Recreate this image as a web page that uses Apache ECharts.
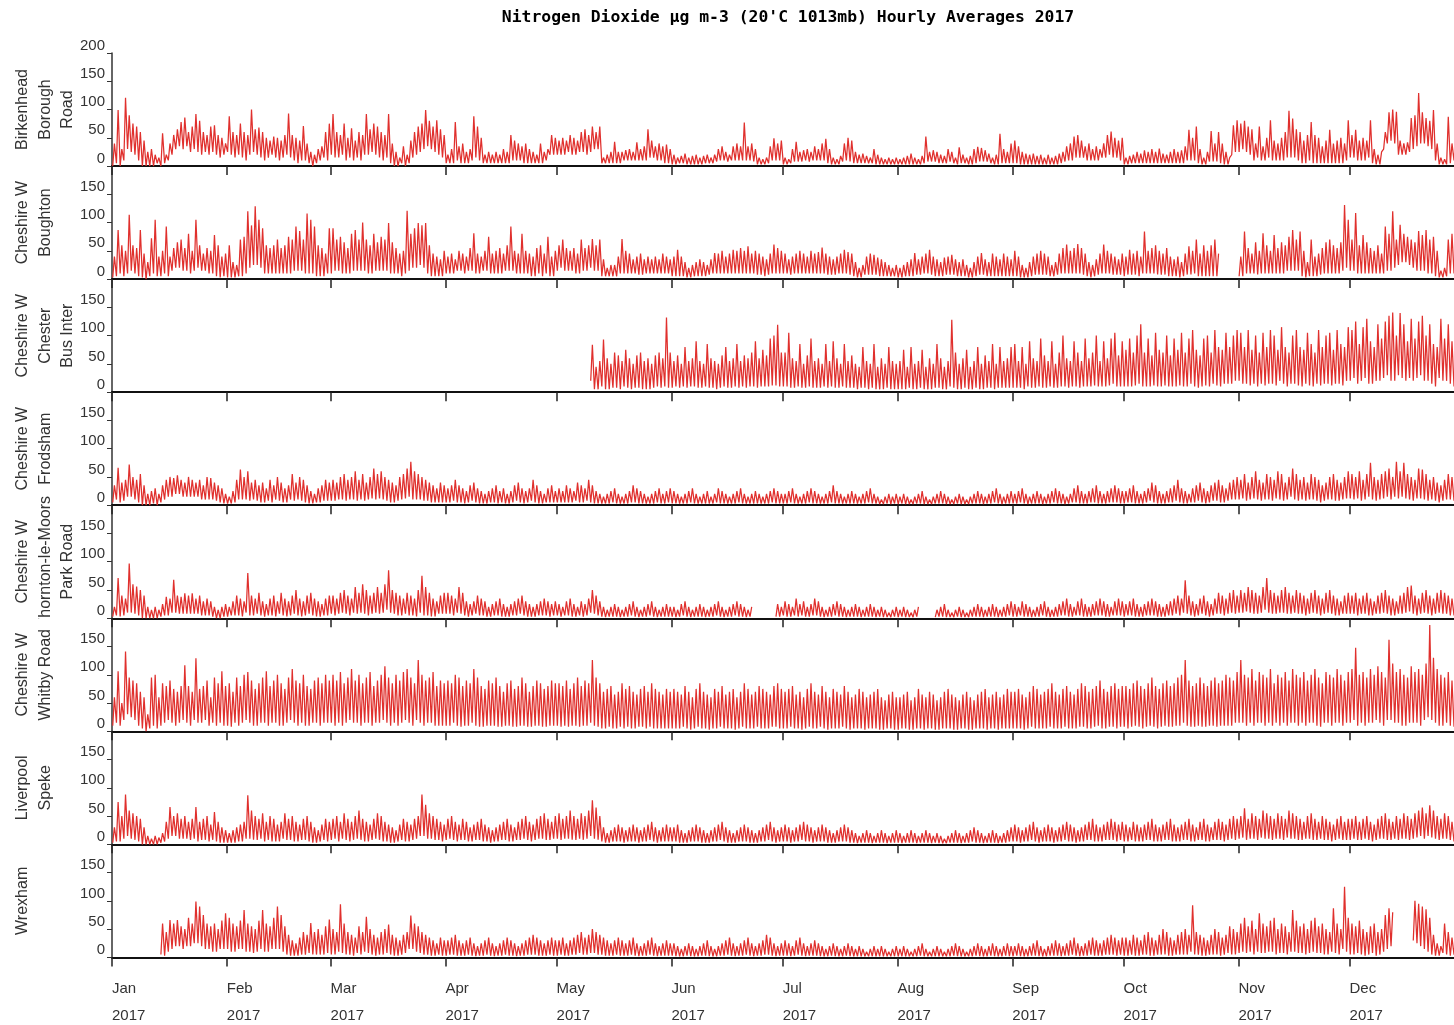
<!DOCTYPE html>
<html><head><meta charset="utf-8">
<script src="https://cdn.jsdelivr.net/npm/echarts@6/dist/echarts.min.js"></script>
<style>html,body{margin:0;padding:0;background:#fff;overflow:hidden}#c{width:1470px;height:1025px}</style>
</head><body><div id="c"></div>
<script>
// ---- tick / category data ----
const monthStarts = [0,31,59,90,120,151,181,212,243,273,304,334];
const monthNames = ['Jan','Feb','Mar','Apr','May','Jun','Jul','Aug','Sep','Oct','Nov','Dec'];
const yearLabel = '2017';
const yMin = 0, yMax = 200, yStep = 50;
const titleText = "Nitrogen Dioxide \u00b5g m-3 (20'C 1013mb) Hourly Averages 2017";
const stationNames = ['Birkenhead\nBorough\nRoad','Cheshire W\nBoughton','Cheshire W\nChester\nBus Inter','Cheshire W\nFrodsham','Cheshire W\nThornton-le-Moors\nPark Road','Cheshire W\nWhitby Road','Liverpool\nSpeke','Wrexham'];
const N = null;

// ---- daily peak (hi) and daily low (lo) readings, one sub-array per month ----
const birkenheadHi = [
[40,99,30,121,90,75,70,60,45,25,30,20,15,58,20,40,55,65,78,86,60,70,92,80,60,55,70,72,55,50,40],
[88,60,55,75,60,55,100,65,68,60,50,45,52,50,45,55,93,55,50,45,71,40,25,20,30,35,60,75],
[92,60,55,75,50,67,45,60,55,92,65,75,70,60,55,92,40,25,15,35,20,45,60,70,75,99,80,70,81,65,55],
[20,30,78,35,40,25,30,88,70,50,20,25,20,25,20,30,25,55,45,40,35,40,30,25,20,40,25,30,55,50],
[45,50,45,55,50,45,60,65,55,70,60,70,15,20,25,43,25,25,28,30,25,42,30,35,65,45,35,40,35,38,30],
[20,15,18,22,15,18,20,15,18,20,15,20,30,35,25,20,35,40,35,77,35,40,30,15,12,15,35,49,40,45],
[15,12,30,43,25,28,30,25,35,30,40,48,30,15,12,18,40,50,45,25,20,22,18,15,30,20,15,12,15,12,15],
[12,15,18,22,15,12,18,52,25,28,25,20,18,30,25,15,33,20,15,18,30,34,32,28,22,15,20,57,30,25,40],
[45,35,25,22,20,22,18,20,15,20,15,18,22,25,35,40,52,55,45,35,40,30,35,30,40,55,61,50,45,50],
[15,18,20,25,22,28,25,30,25,31,22,20,25,30,25,28,35,64,50,70,30,15,25,62,40,60,40,25,15,72,81],
[75,80,70,65,40,70,35,50,81,45,40,50,60,98,84,65,60,45,55,78,55,50,35,45,64,40,45,50,40,81],
[55,64,45,50,45,81,30,20,25,60,95,100,96,45,40,42,85,90,129,95,85,80,99,40,15,12,87,40,50,45,40]];
const birkenheadLo = [
[0,5,0,10,30,25,20,10,0,0,0,0,5,0,5,10,20,30,35,30,35,25,30,25,20,25,20,25,20,15,20],
[25,20,15,20,15,10,20,25,20,15,10,15,20,15,10,15,20,15,10,5,10,10,5,0,5,10,15,10],
[20,15,15,20,10,15,10,15,10,20,20,25,20,15,10,15,5,0,0,5,0,5,15,20,25,30,35,30,25,20,15],
[5,5,5,10,5,5,5,10,15,10,5,5,5,5,5,5,5,5,10,10,10,5,5,5,5,5,5,10,20,20],
[20,20,20,25,20,20,25,25,20,25,30,30,5,5,5,5,5,5,10,10,10,10,10,10,10,15,15,10,10,5,5],
[3,3,5,5,3,3,3,3,3,5,5,5,8,10,10,8,10,10,10,10,10,10,8,3,3,3,5,10,10,10],
[3,3,5,8,8,8,10,8,10,10,10,10,5,3,3,3,8,10,8,5,5,5,5,5,5,3,3,3,3,3,3],
[3,3,3,3,3,3,3,5,8,8,8,5,5,5,8,5,3,5,5,3,3,5,8,8,8,5,3,3,5,5,5],
[5,5,3,3,3,3,3,3,3,3,3,3,3,5,8,10,10,15,15,15,10,10,10,10,15,15,20,15,15,10],
[3,3,5,5,5,5,5,5,5,5,5,5,5,5,5,5,5,10,10,10,5,3,3,8,8,8,5,3,3,20,25],
[25,30,25,20,10,15,10,10,15,10,10,10,10,15,15,15,10,5,5,10,5,5,5,5,5,5,5,5,5,10],
[15,15,10,10,10,15,5,3,3,30,40,45,40,20,20,20,25,30,35,40,40,35,30,10,3,3,3,5,10,10,10]];

const boughtonHi = [
[40,87,60,50,114,60,55,87,45,30,72,105,40,50,93,40,55,65,70,55,80,50,105,60,45,55,50,78,60,40,45],
[60,30,25,70,75,120,95,129,105,90,60,55,60,70,55,60,75,70,93,85,70,116,105,93,60,55,45,90],
[90,70,75,65,55,80,87,70,100,70,60,80,65,75,70,99,65,55,45,50,121,80,90,99,95,99,60,45,40,35,50],
[40,45,35,50,45,40,55,81,45,40,50,75,45,50,55,45,60,93,50,45,80,50,45,40,55,60,45,75,40,50],
[60,70,55,50,55,45,70,55,60,71,60,70,35,20,25,25,40,71,50,45,35,40,45,35,40,35,40,35,45,40,35],
[40,52,40,30,20,25,30,35,30,25,35,46,45,50,40,45,52,50,55,50,58,45,50,45,40,35,45,61,55,50],
[45,35,40,45,50,45,40,50,45,48,56,45,40,35,40,45,52,48,45,30,20,25,40,45,43,38,35,30,25,20,25],
[20,25,30,35,46,35,40,45,52,40,35,30,38,40,43,35,30,35,25,20,30,40,46,35,30,45,40,35,45,40,35],
[50,40,25,20,30,40,45,50,45,40,25,30,45,55,61,50,55,62,55,45,30,25,35,45,61,50,45,40,35,45],
[40,52,45,50,40,84,50,55,60,50,45,55,40,35,40,30,45,58,50,70,45,60,50,60,70,45,N,N,N,N,N],
[40,84,55,45,65,50,81,60,50,78,55,65,60,75,87,70,84,50,30,70,40,45,55,65,70,60,55,65,131,105],
[70,117,60,78,65,55,50,60,45,93,80,120,70,96,80,75,70,65,85,78,87,70,75,50,15,20,70,80,60,55,50]];
const boughtonLo = [
[3,5,10,5,10,15,10,5,3,0,5,10,5,5,10,5,15,20,20,15,15,10,15,20,15,15,10,10,5,3,5],
[3,3,3,5,5,10,20,25,25,20,10,10,10,10,10,10,10,10,15,15,15,10,10,10,5,5,5,10],
[10,15,15,10,10,10,15,15,15,15,10,10,15,15,15,15,10,10,10,5,10,15,20,20,25,20,10,5,5,5,5],
[10,10,10,15,15,10,15,15,10,10,15,15,10,10,10,10,15,15,15,10,10,10,10,5,5,10,5,10,5,5],
[15,20,15,15,15,10,10,15,15,20,15,15,5,5,5,5,5,10,10,10,10,10,8,8,10,10,10,10,10,10,10],
[5,5,5,5,3,3,5,5,5,5,8,10,10,10,10,10,10,10,10,10,10,10,10,8,8,5,8,10,10,10],
[10,10,8,10,10,10,10,10,10,10,10,10,8,8,8,10,10,10,8,5,3,3,8,8,8,8,5,5,5,5,5],
[3,3,5,5,5,8,8,10,10,8,5,5,5,8,8,8,5,5,5,3,3,5,8,8,5,5,5,5,5,5,5],
[5,5,3,3,3,5,8,8,8,8,5,5,8,10,10,10,10,10,10,8,5,3,5,8,10,10,10,8,8,8],
[5,8,8,8,5,10,10,10,10,8,8,8,5,5,5,3,5,8,8,10,5,5,5,5,5,5,N,N,N,N,N],
[5,5,10,10,10,8,10,10,10,10,10,10,10,15,15,15,15,5,3,5,5,5,8,10,10,10,10,10,15,20],
[15,15,10,10,10,10,10,10,10,10,15,15,20,25,30,30,25,20,15,15,15,10,10,5,3,3,5,10,10,10,10]];

const chesterHi = [[],[],[],[],
[N,N,N,N,N,N,N,N,N,84,45,55,93,60,50,70,65,55,75,60,50,65,70,55,60,50,65,70,60,132,70],
[55,65,50,80,55,60,90,55,50,85,60,55,50,65,80,55,60,85,55,65,60,70,90,60,75,65,95,100,119,70],
[70,105,60,55,85,50,65,95,55,60,50,85,55,90,60,50,85,55,65,50,45,80,55,50,85,45,60,50,80,55,50],
[55,75,45,80,50,55,75,45,60,50,85,60,45,55,128,70,50,60,75,45,55,80,50,65,55,85,50,80,55,60,80],
[85,55,80,50,90,60,55,95,65,55,90,50,70,100,60,55,90,70,55,95,60,70,100,55,90,60,95,105,65,90],
[75,95,70,100,120,70,95,65,105,75,70,100,65,95,75,105,70,95,110,75,65,95,100,70,110,80,75,105,80,100,110],
[105,80,110,75,100,70,105,80,110,100,75,115,80,70,100,110,80,75,105,85,70,110,80,100,105,75,110,85,80,115],
[110,125,85,115,130,90,80,120,95,125,135,141,100,140,120,90,130,95,125,135,100,120,85,80,130,95,120,90,80,70,60]];
const chesterLo = [[],[],[],[],
[N,N,N,N,N,N,N,N,N,20,5,5,10,5,5,8,8,5,10,8,5,8,8,5,5,5,8,10,8,10,8],
[8,10,8,10,8,10,10,8,8,10,8,8,5,8,10,8,8,10,8,10,8,10,10,8,10,10,10,12,12,10],
[10,10,8,8,10,8,8,10,8,8,8,10,8,10,8,8,10,8,8,8,5,8,8,5,8,5,5,5,8,5,5],
[5,5,5,8,5,5,8,5,5,5,8,8,5,5,10,8,5,5,8,5,5,8,5,5,8,8,5,8,8,8,8],
[8,8,8,5,10,8,8,10,8,8,10,8,8,10,10,8,10,10,8,10,10,10,12,10,10,10,12,15,10,10],
[10,10,10,12,15,10,10,10,12,10,10,12,10,10,10,12,10,10,15,10,8,10,12,10,15,12,10,15,15,15,20],
[20,15,15,12,15,10,15,12,15,15,12,20,15,10,15,15,12,10,15,12,10,15,12,15,15,12,15,15,12,20],
[20,25,15,20,25,15,15,20,20,25,30,20,20,30,25,20,25,20,25,30,20,20,15,10,25,20,20,15,10,10,10]];

const frodshamHi = [
[35,66,40,45,72,50,45,55,35,20,25,30,20,35,45,50,48,53,45,40,50,45,40,45,35,50,48,40,35,30,20],
[15,25,45,63,50,60,40,45,35,40,30,45,35,50,40,30,35,55,40,50,45,35,25,20,30,35,45,40],
[45,40,50,55,45,50,60,45,55,40,50,65,55,60,50,45,40,35,50,55,65,77,60,55,50,45,40,35,30,40,35],
[30,35,45,35,30,25,35,40,30,25,20,25,30,35,25,30,20,25,35,40,30,25,30,45,35,25,20,30,35,25],
[30,25,35,30,25,40,35,30,45,35,25,20,15,20,25,30,20,15,20,25,35,30,25,20,15,20,25,30,20,25,30],
[25,20,15,20,25,30,20,15,20,25,15,20,30,25,20,15,20,25,30,20,15,20,25,20,15,20,25,30,25,20],
[20,25,30,20,15,20,25,30,25,20,15,20,25,35,25,20,15,20,25,20,15,20,25,30,20,15,10,15,20,15,20],
[15,20,15,10,15,20,25,15,10,15,20,25,20,15,10,15,20,15,10,15,20,25,20,15,20,25,30,20,15,20,25],
[20,25,30,20,15,20,25,20,15,20,25,30,25,20,15,20,30,35,25,20,25,30,35,25,20,25,30,35,30,25],
[25,30,35,25,20,25,30,40,35,25,20,25,30,35,45,30,25,20,30,35,40,30,25,35,40,45,35,30,40,45,50],
[45,55,40,50,60,45,40,55,50,45,60,55,40,50,65,55,45,50,40,55,50,45,35,40,50,55,45,40,50,60],
[55,50,60,45,55,75,50,45,55,60,65,50,77,60,75,55,50,45,65,63,55,45,50,40,35,45,55,50,45,40,35]];
const frodshamLo = [
[5,10,5,8,15,15,10,5,0,0,0,3,0,5,10,15,15,20,20,15,15,15,15,15,10,10,10,10,8,5,3],
[3,3,5,10,10,10,8,10,8,5,5,8,5,10,8,5,5,10,8,10,8,5,3,3,5,5,8,8],
[8,8,10,10,8,10,10,8,10,8,10,12,10,12,10,8,5,5,8,10,12,15,10,10,10,8,8,5,5,5,5],
[5,5,8,5,5,3,5,8,5,3,3,3,5,5,3,5,3,3,5,8,5,3,5,8,5,3,3,5,5,5],
[5,5,5,5,5,8,5,5,8,5,3,3,3,3,3,5,3,3,3,3,5,5,3,3,3,3,3,5,3,3,5],
[3,3,3,3,3,5,3,3,3,3,3,3,5,3,3,3,3,3,5,3,3,3,3,3,3,3,3,5,3,3],
[3,3,5,3,3,3,3,5,3,3,3,3,3,5,3,3,3,3,3,3,3,3,3,5,3,3,2,2,3,2,3],
[2,3,2,2,2,3,3,2,2,2,3,3,3,2,2,2,3,2,2,2,3,3,3,2,3,3,5,3,2,3,3],
[3,3,5,3,2,3,3,3,2,3,3,5,3,3,2,3,5,5,3,3,3,5,5,3,3,3,5,5,5,3],
[3,5,5,3,3,3,5,8,5,3,3,3,5,5,8,5,3,3,5,5,8,5,3,5,8,8,5,5,8,10,10],
[10,12,8,10,12,10,8,10,10,8,12,10,8,10,15,10,8,10,8,10,10,8,5,8,10,10,8,8,10,12],
[12,10,12,8,10,15,10,8,10,12,15,10,15,12,15,12,10,8,12,12,10,8,10,8,5,8,10,10,8,8,5]];

const thorntonHi = [
[20,71,40,35,97,60,56,50,40,20,15,20,15,25,38,35,68,40,38,44,40,44,35,40,30,35,30,20,15,20,25],
[20,30,40,35,30,80,40,35,45,30,25,35,40,30,45,35,30,40,50,35,30,40,45,35,30,25,35,40],
[40,35,45,50,40,35,55,45,60,50,40,45,55,45,60,85,50,45,40,35,45,40,35,50,75,55,45,35,30,40,45],
[45,40,35,55,45,30,25,30,40,35,30,20,25,30,35,25,20,25,30,35,40,30,25,20,25,30,35,30,25,30],
[25,20,30,35,25,20,30,25,35,50,40,30,20,15,20,25,20,15,20,25,30,20,15,20,25,30,20,15,20,25,20],
[20,15,25,30,20,15,20,25,20,15,20,25,30,20,15,20,25,30,25,20,15,20,N,N,N,N,N,N,25,20],
[30,25,20,35,25,30,20,25,35,30,20,15,20,25,30,25,20,15,20,25,20,15,20,25,20,15,20,15,10,15,20],
[15,20,15,10,15,20,N,N,N,N,15,20,25,15,10,15,20,15,10,15,20,25,20,15,20,25,20,15,20,25,30],
[25,20,30,25,20,15,20,25,30,20,15,20,25,30,35,25,20,30,35,25,20,25,30,35,30,25,20,30,35,30],
[25,30,35,25,20,25,30,35,30,25,20,25,30,35,40,35,67,40,30,25,35,40,30,25,35,45,40,35,45,50,40],
[50,45,55,50,45,40,55,71,50,45,40,50,55,45,40,50,45,40,35,45,50,40,35,45,50,40,35,30,40,45],
[40,45,35,40,45,35,30,40,45,50,40,35,30,40,45,55,58,40,35,45,50,40,35,45,50,45,40,35,30,25,20]];
const thorntonLo = [
[3,5,3,5,10,10,8,5,0,0,0,0,0,3,5,5,10,10,8,8,8,8,8,8,5,5,5,3,0,0,3],
[3,5,5,5,3,10,5,5,8,5,3,5,5,3,8,5,3,5,8,5,3,5,8,5,3,3,5,5],
[8,5,8,10,8,5,10,8,10,8,5,8,10,8,10,15,10,8,5,5,8,5,5,3,10,5,5,3,3,8,8],
[8,8,5,10,8,5,3,5,8,5,5,3,3,5,5,3,3,3,5,5,8,5,3,3,3,5,5,5,3,5],
[5,3,5,5,3,3,5,3,5,10,8,5,3,2,3,3,3,2,3,3,5,3,2,3,3,5,3,2,3,3,3],
[3,2,3,5,3,2,3,3,3,2,3,3,5,3,2,3,3,5,3,3,2,3,N,N,N,N,N,N,3,3],
[5,3,3,5,3,5,3,3,5,5,3,2,3,3,5,3,3,2,3,3,3,2,3,3,3,2,3,2,2,2,3],
[2,3,2,2,2,3,N,N,N,N,2,3,3,2,2,2,3,2,2,2,3,3,3,2,3,3,3,2,3,3,5],
[3,3,5,3,3,2,3,3,5,3,2,3,3,5,5,3,3,5,5,3,3,3,5,5,5,3,3,5,5,5],
[3,5,5,3,3,3,5,5,5,3,3,3,5,5,8,5,10,8,5,3,5,8,5,3,5,8,8,5,8,10,8],
[10,10,12,10,8,8,10,15,10,8,8,10,10,8,8,10,8,8,5,8,10,8,5,8,10,8,5,5,8,8],
[8,8,5,8,8,5,5,8,8,10,8,5,5,8,8,10,12,8,5,8,10,8,5,8,10,8,8,5,5,3,3]];

const whitbyHi = [
[60,106,50,141,95,90,85,70,60,30,95,100,60,85,80,90,75,70,80,117,80,70,129,75,80,90,60,95,85,106,80],
[85,70,95,80,100,105,90,75,85,95,106,80,90,100,85,75,95,110,90,85,100,80,75,90,95,85,100,90],
[100,90,105,85,95,110,90,100,85,95,105,80,90,100,115,95,85,100,90,105,110,95,85,126,100,90,95,105,80,90,85],
[90,85,100,95,80,90,85,110,95,80,75,90,85,95,80,70,85,90,75,80,95,85,70,80,90,85,75,80,90,85],
[85,80,90,75,85,95,80,90,85,126,95,85,70,75,80,65,70,85,75,80,70,65,75,80,70,85,75,70,65,75,70],
[75,70,65,80,70,60,75,85,70,65,60,75,70,80,65,70,75,60,70,85,75,65,70,80,75,70,65,80,85,75],
[70,75,80,65,70,60,75,85,70,65,80,70,60,75,70,65,80,70,60,65,75,70,60,65,70,75,60,55,65,70,60],
[60,65,70,55,60,75,65,60,70,65,55,60,70,75,65,60,55,65,70,60,55,65,70,75,60,65,70,60,65,75,70],
[70,75,65,60,70,80,75,65,70,75,85,70,65,75,80,70,65,75,85,80,70,75,80,90,75,70,80,85,75,80],
[80,75,85,90,80,75,85,95,80,75,85,90,80,85,95,100,126,90,80,85,95,85,80,90,95,85,90,100,95,90,105],
[126,100,95,110,90,105,100,95,110,85,100,95,105,90,110,100,95,105,90,100,110,95,85,105,100,95,110,100,90,105],
[110,148,100,105,95,110,100,115,105,95,162,120,105,110,100,95,115,105,110,100,120,188,130,110,100,95,105,90,80,70,75]];
const whitbyLo = [
[10,15,10,20,30,25,20,10,5,0,5,10,5,10,15,20,15,10,15,20,15,10,20,15,15,20,10,15,10,15,10],
[10,8,15,10,15,20,15,10,10,15,15,10,15,15,10,10,15,20,15,10,15,10,10,15,15,10,15,15],
[15,10,15,10,15,20,15,15,10,15,15,10,15,15,20,15,10,15,10,15,20,15,10,20,15,10,15,15,10,10,10],
[10,10,15,10,8,10,10,15,10,8,8,10,10,10,8,8,10,10,8,8,10,10,8,8,10,10,8,8,10,10],
[10,8,10,8,10,10,8,10,10,15,10,8,5,5,8,5,5,8,5,8,5,5,8,8,5,8,5,5,5,5,5],
[5,5,5,8,5,3,5,8,5,5,3,5,5,8,5,5,5,3,5,8,5,5,5,8,5,5,5,8,8,5],
[5,5,8,5,5,3,5,8,5,5,8,5,3,5,5,5,8,5,3,5,5,5,3,5,5,5,3,3,5,5,3],
[3,5,5,3,3,5,5,3,5,5,3,3,5,5,5,3,3,5,5,3,3,5,5,5,3,5,5,3,5,5,5],
[5,5,5,3,5,8,5,5,5,5,8,5,5,5,8,5,5,5,8,8,5,5,8,10,5,5,8,8,5,8],
[8,5,8,10,8,5,8,10,8,5,8,10,8,8,10,10,15,10,8,8,10,8,8,10,10,8,10,10,10,10,15],
[15,15,10,15,10,15,15,10,15,10,15,10,15,10,15,15,10,15,10,15,15,10,8,15,15,10,15,15,10,15],
[15,20,10,15,10,15,15,20,15,10,20,20,15,15,10,10,15,15,15,10,20,25,20,15,10,10,15,10,8,5,5]];

const spekeHi = [
[30,75,50,88,60,55,50,45,30,15,10,15,12,20,40,66,50,55,45,50,40,45,66,40,45,50,35,57,40,30,25],
[20,25,30,35,40,87,60,50,45,55,40,50,45,35,40,55,45,50,40,35,45,50,40,30,25,35,45,40],
[45,50,40,55,45,40,50,60,45,40,35,45,55,50,40,35,30,25,35,45,40,35,45,50,88,70,55,50,45,40,35],
[45,50,40,35,45,40,30,35,40,45,35,30,25,30,35,40,45,35,30,40,45,50,40,35,45,50,55,45,40,50],
[55,45,50,60,50,45,55,50,60,78,65,50,30,20,25,30,35,30,25,30,35,30,25,30,35,40,30,25,30,35,30],
[30,35,25,20,25,30,35,30,25,20,25,30,35,40,30,25,20,25,30,35,30,25,20,25,30,35,40,30,25,30],
[35,30,25,30,35,40,35,30,25,30,35,30,25,20,25,30,35,30,25,20,15,20,25,20,15,20,25,20,15,20,25],
[20,15,20,25,20,15,20,25,20,15,20,15,10,15,20,25,20,15,20,25,30,25,20,15,20,25,20,15,20,25,30],
[35,30,25,30,35,40,30,25,30,35,30,25,30,35,40,35,30,25,30,35,40,45,35,30,35,40,45,40,35,40],
[35,30,40,35,30,35,40,45,35,30,35,40,45,35,30,35,40,45,35,30,40,45,35,30,40,45,40,35,45,50,45],
[50,64,45,55,50,45,60,55,50,45,55,50,45,60,55,50,45,40,50,55,45,40,50,45,40,35,45,50,40,45],
[45,50,40,45,50,40,35,45,50,55,45,40,50,45,55,50,45,55,60,65,55,69,60,50,45,55,50,40,30,25,35]];
const spekeLo = [
[3,5,5,10,15,10,8,5,0,0,0,0,0,3,5,10,15,15,10,10,10,8,10,5,8,8,5,8,5,3,3],
[3,3,3,5,5,10,10,8,8,10,5,8,5,5,5,10,8,8,5,5,8,8,5,3,3,5,8,5],
[8,10,5,10,8,5,8,10,8,5,5,8,10,8,5,5,3,3,5,8,5,5,8,10,15,15,10,10,8,8,5],
[8,10,8,5,8,8,5,5,8,8,5,5,3,5,5,8,8,5,5,8,8,10,8,5,8,10,10,8,8,10],
[10,8,10,10,8,8,10,8,10,15,10,8,5,3,3,5,5,5,3,5,5,5,3,5,5,8,5,3,5,5,5],
[5,5,3,3,3,5,5,5,3,3,3,5,5,8,5,3,3,3,5,5,5,3,3,3,5,5,8,5,3,5],
[5,5,3,5,5,8,5,5,3,5,5,5,3,3,3,5,5,5,3,3,2,3,3,3,2,3,3,3,2,3,3],
[3,2,3,3,3,2,3,3,3,2,3,2,2,2,3,3,3,2,3,3,5,3,3,2,3,3,3,2,3,3,5],
[5,5,3,5,5,8,5,3,5,5,5,3,5,5,8,5,5,3,5,5,8,8,5,5,5,8,8,8,5,8],
[5,5,8,5,5,5,8,8,5,5,5,8,8,5,5,5,8,8,5,5,8,8,5,5,8,8,8,5,8,10,8],
[10,12,8,10,10,8,12,10,10,8,10,10,8,12,10,10,8,8,10,10,8,8,10,8,8,5,8,10,8,8],
[8,10,8,8,10,8,5,8,10,10,8,8,10,8,10,10,8,10,12,15,10,15,12,10,8,10,10,8,5,3,5]];

const wrexhamHi = [
[N,N,N,N,N,N,N,N,N,N,N,N,N,60,45,66,60,66,55,50,70,60,99,90,75,60,55,60,50,65,78],
[70,60,55,65,84,60,55,50,65,84,60,55,70,90,75,55,40,30,25,35,45,40,61,45,50,40,55,67],
[50,45,94,60,45,40,35,55,45,72,50,40,35,45,50,58,40,35,30,40,45,74,60,55,45,40,35,30,25,35,30],
[30,35,40,30,25,30,35,25,20,25,30,35,25,20,25,30,35,30,25,20,25,30,35,40,35,30,25,30,35,30],
[30,35,25,30,35,40,45,35,40,50,45,40,35,30,25,30,35,30,25,30,35,25,20,25,30,35,25,20,25,30,25],
[25,20,15,20,25,20,15,20,25,30,20,15,20,25,30,35,25,20,25,30,35,25,20,25,30,40,35,25,20,25],
[30,25,20,30,35,25,20,25,30,25,20,15,20,25,20,15,20,25,20,15,20,15,10,15,20,15,20,15,10,15,20],
[15,20,15,10,15,20,25,15,10,15,20,15,10,15,20,25,20,15,10,15,20,25,20,15,20,25,20,15,20,25,20],
[20,25,20,15,20,25,30,20,15,20,25,30,25,20,25,30,35,25,20,25,30,35,30,25,30,35,40,35,30,35],
[35,30,40,35,30,40,45,35,30,40,50,45,35,30,40,45,50,40,92,45,40,35,30,40,50,45,35,40,55,50,45],
[60,70,55,65,50,78,60,55,65,70,50,60,55,45,84,65,55,60,50,65,70,55,60,50,45,87,60,50,125,70],
[60,55,65,50,45,55,60,45,50,75,87,80,N,N,N,N,N,100,95,90,85,70,40,25,20,60,45,35,40,30,35]];
const wrexhamLo = [
[N,N,N,N,N,N,N,N,N,N,N,N,N,5,3,10,15,20,20,15,20,20,25,25,20,15,15,10,10,15,15],
[15,10,10,15,15,10,10,8,10,15,10,10,15,15,15,10,5,3,3,3,5,5,8,5,5,5,5,8],
[5,5,10,8,5,5,3,8,5,10,8,5,3,5,5,8,5,3,3,5,8,15,15,10,8,5,5,3,3,5,3],
[3,5,5,3,3,3,5,3,2,3,3,5,3,2,3,3,5,3,3,2,3,3,5,5,5,3,3,3,5,3],
[3,5,3,3,5,5,8,5,5,8,8,5,5,3,3,3,5,3,3,3,5,3,2,3,3,5,3,2,3,3,3],
[3,2,2,2,3,2,2,2,3,3,2,2,2,3,3,5,3,2,3,3,5,3,2,3,3,5,5,3,2,3],
[3,3,2,3,5,3,2,3,3,3,2,2,2,3,2,2,2,3,2,2,2,2,2,2,2,2,2,2,2,2,2],
[2,2,2,2,2,2,3,2,2,2,2,2,2,2,2,3,2,2,2,2,2,3,2,2,2,3,2,2,2,3,2],
[2,3,2,2,2,3,3,2,2,2,3,3,3,2,3,3,5,3,2,3,3,5,3,3,3,5,5,5,3,5],
[3,3,5,3,3,5,5,3,3,5,5,5,3,3,5,5,5,5,10,5,5,3,3,5,5,5,3,5,8,5,5],
[8,10,8,10,5,10,8,8,10,10,5,8,8,5,10,10,8,8,5,8,10,8,8,5,5,10,8,5,15,10],
[5,5,8,5,3,5,8,3,5,10,15,20,N,N,N,N,N,30,25,20,15,10,5,3,3,8,5,3,5,3,3]];

const stationHi = [birkenheadHi, boughtonHi, chesterHi, frodshamHi, thorntonHi, whitbyHi, spekeHi, wrexhamHi];
const stationLo = [birkenheadLo, boughtonLo, chesterLo, frodshamLo, thorntonLo, whitbyLo, spekeLo, wrexhamLo];

// ---- build [day, value] points: daily low then daily peak ----
function build(hi, lo) {
  const pts = [];
  for (let m = 0; m < 12; m++) {
    const h = hi[m] || [], l = lo[m] || [];
    const n = Math.max(h.length, l.length);
    for (let i = 0; i < n; i++) {
      const d = monthStarts[m] + i;
      const lv = l[i], hv = h[i];
      pts.push([d + 0.2, lv == null ? '-' : lv]);
      pts.push([d + 0.65, hv == null ? '-' : hv]);
    }
  }
  return pts;
}

// ---- layout ----
const LEFT = 112, TOP0 = 53, PH = 113.05, PW = 1352.4, CW = 1470;
const grids = [], xAxes = [], yAxes = [], series = [], graphics = [];
const lineColor = '#E0302D';
const txt = '#333';
const sansFont = 'Liberation Sans, Arial, sans-serif';

for (let i = 0; i < stationNames.length; i++) {
  const top = TOP0 + i * PH;
  grids.push({ left: LEFT, top: top, right: CW - LEFT - PW, height: PH, containLabel: false, outerBoundsMode: 'none' });
  const last = i === stationNames.length - 1;
  xAxes.push({
    type: 'value', gridIndex: i, min: 0, max: 365,
    axisLine: { show: true, onZero: false, lineStyle: { color: '#111', width: 2 } },
    axisTick: { show: true, inside: false, length: 9, customValues: monthStarts, lineStyle: { color: '#222', width: 1.5 } },
    axisLabel: {
      show: last, customValues: monthStarts, align: 'left', margin: 18,
      fontSize: 15, lineHeight: 27, color: txt, fontFamily: sansFont,
      formatter: function (v) { const k = monthStarts.indexOf(Math.round(v)); return k < 0 ? '' : monthNames[k] + '\n' + yearLabel; }
    },
    splitLine: { show: false }
  });
  yAxes.push({
    type: 'value', gridIndex: i, min: yMin, max: yMax, interval: yStep,
    axisLine: { show: true, lineStyle: { color: '#333', width: 1.5 } },
    axisTick: { show: true, inside: false, length: 5, lineStyle: { color: '#333', width: 1 } },
    axisLabel: { show: true, showMaxLabel: i === 0, showMinLabel: true, fontSize: 15, color: txt, fontFamily: sansFont, verticalAlign: 'bottom', margin: 7 },
    splitLine: { show: false }
  });
  series.push({
    type: 'line', xAxisIndex: i, yAxisIndex: i, data: build(stationHi[i], stationLo[i]),
    showSymbol: false, symbol: 'none', connectNulls: false, clip: true,
    lineStyle: { color: lineColor, width: 1.25 }, itemStyle: { color: lineColor }, silent: true
  });
  // white strip behind each label (covers overflow of the label above), then the label
  graphics.push({ type: 'rect', z: 10 + 2 * i, shape: { x: 0, y: top, width: 76, height: PH }, style: { fill: '#fff' }, silent: true });
  graphics.push({
    type: 'text', z: 11 + 2 * i, x: 11.5, y: top + PH / 2, rotation: Math.PI / 2,
    style: { text: stationNames[i], fill: txt, font: '16px ' + sansFont, align: 'center', verticalAlign: 'top', lineHeight: 22.5 }
  });
}

const chart = echarts.init(document.getElementById('c'), null, { renderer: 'canvas' });
chart.setOption({
  animation: false,
  backgroundColor: '#fff',
  title: { text: titleText, left: 783, top: 5, textAlign: 'center',
    textStyle: { fontFamily: 'DejaVu Sans Mono, monospace', fontWeight: 'bold', fontSize: 16.4, color: '#000' } },
  grid: grids, xAxis: xAxes, yAxis: yAxes, series: series,
  graphic: graphics
});
</script></body></html>
